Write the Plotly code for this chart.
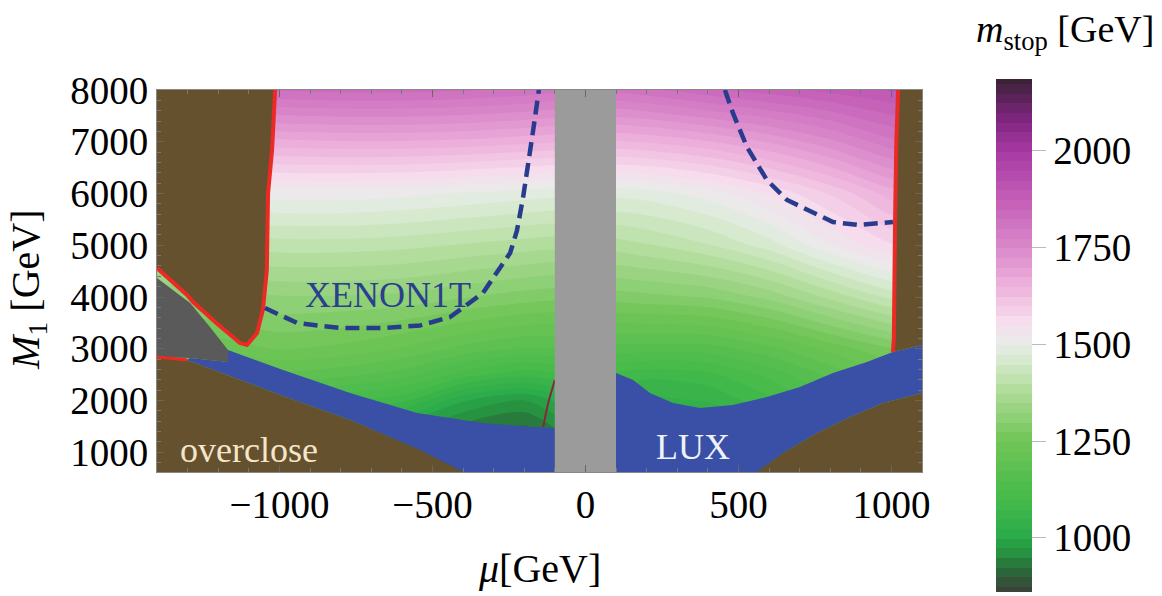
import plotly.graph_objects as go

# ---------------- data ----------------
# parameter grid: higgsino mass mu [GeV] (columns) and bino mass M1 [GeV] (rows)
mu_grid = [-1400, -1200, -1000, -800, -600, -400, -200, -100, 0, 100, 200, 400, 600, 800, 1000, 1100]
m1_grid = [600, 1000, 1500, 2000, 2500, 3000, 4000, 5000, 6000, 7000, 8000]

# stop mass [GeV]; one row per m1_grid entry
m_stop = [
    [910, 930, 940, 920, 890, 870, 870, 890, 920, 930, 920, 930, 950, 1000, 1050, 1060],
    [950, 970, 980, 960, 930, 900, 890, 910, 950, 960, 950, 960, 990, 1040, 1090, 1100],
    [1010, 1030, 1040, 1020, 990, 940, 920, 950, 990, 1010, 1000, 1010, 1040, 1090, 1140, 1150],
    [1090, 1110, 1120, 1100, 1080, 1000, 970, 1000, 1040, 1060, 1040, 1050, 1090, 1140, 1180, 1190],
    [1160, 1180, 1190, 1180, 1160, 1110, 1080, 1090, 1090, 1090, 1080, 1090, 1130, 1180, 1220, 1230],
    [1210, 1230, 1250, 1240, 1220, 1190, 1170, 1170, 1170, 1160, 1160, 1160, 1190, 1230, 1270, 1280],
    [1300, 1310, 1320, 1320, 1315, 1300, 1285, 1280, 1280, 1285, 1290, 1300, 1330, 1380, 1430, 1440],
    [1390, 1400, 1410, 1410, 1405, 1395, 1385, 1380, 1380, 1385, 1395, 1420, 1460, 1520, 1570, 1580],
    [1490, 1500, 1510, 1510, 1505, 1495, 1485, 1480, 1478, 1480, 1485, 1510, 1550, 1600, 1660, 1670],
    [1640, 1655, 1665, 1670, 1670, 1665, 1655, 1650, 1645, 1645, 1650, 1670, 1700, 1740, 1790, 1800],
    [1800, 1815, 1825, 1830, 1830, 1825, 1815, 1805, 1800, 1805, 1815, 1840, 1860, 1880, 1900, 1910],
]

# colour scale (green -> white -> pink -> purple) anchored at stop-mass values
cbar_min, cbar_max = 860, 2185
cbar_vals = [860, 920, 960, 1000, 1100, 1250, 1380, 1450, 1500, 1560, 1650, 1750, 1880, 2000, 2080, 2185]
cbar_cols = ['#3b4239', '#2a6c3b', '#27923f', '#29aa4a', '#45ba4a', '#70c556', '#b0dc9a', '#d2e9c9',
             '#e9ece9', '#f6dcec', '#eeb2dc', '#da88ca', '#c25cb6', '#a63aa2', '#7f2580', '#3b2237']
cbar_ticks = [1000, 1250, 1500, 1750, 2000]

# axis ticks
mu_ticks = [-1000, -500, 0, 500, 1000]
mu_ticktext = ['\u22121000', '\u2212500', '0', '500', '1000']
m1_ticks = [1000, 2000, 3000, 4000, 5000, 6000, 7000, 8000]

# excluded / special regions (mu, M1) in GeV
overclose_top_mu = [-1400, -1014, -1024, -1037, -1041, -1054, -1073, -1106, -1129, -1210, -1282, -1302, -1400]
overclose_top_m1 = [8000, 8000, 6841, 6010, 4522, 3750, 3305, 3073, 3112, 3518, 3904, 4039, 4561]

overclose_bl_mu = [-1400, -1302, -988, -769, -541, -400, -1400]
overclose_bl_m1 = [2842, 2784, 2088, 1624, 1045, 620, 620]

overclose_br_mu = [561, 646, 757, 865, 973, 1100, 1100]
overclose_br_m1 = [620, 987, 1373, 1682, 1953, 2146, 620]

overclose_r_mu = [1022, 1016, 1012, 1010, 1008, 1005, 1100, 1100]
overclose_r_m1 = [8000, 7000, 5500, 4000, 3200, 2938, 3073, 8000]

lux_left_mu = [-1302, -1292, -1168, -1168, -988, -769, -550, -335, -171, -100, -100, -400, -541, -769, -988]
lux_left_m1 = [2784, 2822, 2745, 2977, 2590, 2146, 1760, 1567, 1489, 1470, 620, 620, 1045, 1624, 2088]

lux_right_mu = [100, 156, 211, 286, 375, 482, 593, 701, 809, 920, 1005, 1100, 1100, 973, 865, 757, 646, 561, 100]
lux_right_m1 = [2532, 2397, 2146, 1953, 1856, 1914, 2069, 2262, 2532, 2745, 2938, 3073, 2146, 1953, 1682, 1373, 987, 620, 620]

grey_patch_mu = [-1400, -1292, -1227, -1168, -1168, -1292, -1400]
grey_patch_m1 = [4368, 3885, 3421, 2977, 2745, 2822, 2842]

small_mu_band_mu = [-100, 100, 100, -100]
small_mu_band_m1 = [620, 620, 8000, 8000]

red_top_left_mu = overclose_top_mu[1:]
red_top_left_m1 = overclose_top_m1[1:]
red_low_left_mu = [-1400, -1302]
red_low_left_m1 = [2842, 2784]
red_right_mu = overclose_r_mu[:6]
red_right_m1 = overclose_r_m1[:6]
red_center_mu = [-138, -122, -100]
red_center_m1 = [1489, 1950, 2397]

xenon_left_mu = [-1047, -942, -802, -661, -541, -442, -335, -246, -224, -204, -171, -152]
xenon_left_m1 = [3788, 3498, 3402, 3402, 3450, 3614, 4078, 4851, 5276, 5913, 7208, 8000]
xenon_right_mu = [456, 482, 528, 593, 659, 744, 809, 891, 1005]
xenon_right_m1 = [8000, 7556, 6899, 6261, 5875, 5624, 5450, 5392, 5450]

# ---------------- styles ----------------
SERIF = 'Liberation Serif'
BROWN = '#66512f'
BLUE = '#3a4fa6'
RED = '#ec2a25'
DASH_BLUE = '#283c8e'

colorscale = [[(v - cbar_min) / (cbar_max - cbar_min), c] for v, c in zip(cbar_vals, cbar_cols)]

fig = go.Figure()

fig.add_trace(go.Contour(
    x=mu_grid, y=m1_grid, z=m_stop,
    colorscale=colorscale, zmin=cbar_min, zmax=cbar_max,
    contours=dict(start=872.5, end=2172.5, size=25, coloring='fill', showlines=False),
    line=dict(width=0, smoothing=0.9),
    hoverinfo='skip',
    colorbar=dict(
        x=(996 - 157) / 765, xanchor='left', xpad=0, ypad=0,
        y=(472 - 335.5) / 382, yanchor='middle',
        thickness=36, lenmode='pixels', len=513,
        outlinewidth=0,
        tickvals=cbar_ticks, ticks='outside', ticklen=14, tickcolor='#bbbbbb',
        tickfont=dict(family=SERIF, size=39, color='black'),
    ),
))


def region(xs, ys, color):
    fig.add_trace(go.Scatter(x=xs, y=ys, mode='lines', fill='toself', fillcolor=color,
                             line=dict(width=0, color=color), hoverinfo='skip'))


def curve(xs, ys, color, width, dash='solid'):
    fig.add_trace(go.Scatter(x=xs, y=ys, mode='lines',
                             line=dict(color=color, width=width, dash=dash),
                             hoverinfo='skip'))


region(lux_left_mu, lux_left_m1, BLUE)
region(lux_right_mu, lux_right_m1, BLUE)
region(overclose_top_mu, overclose_top_m1, BROWN)
region(overclose_bl_mu, overclose_bl_m1, BROWN)
region(overclose_br_mu, overclose_br_m1, BROWN)
region(overclose_r_mu, overclose_r_m1, BROWN)
region(grey_patch_mu, grey_patch_m1, '#5a5a5a')

curve(red_top_left_mu, red_top_left_m1, RED, 4)
curve(red_low_left_mu, red_low_left_m1, RED, 3)
curve(red_right_mu, red_right_m1, RED, 4)
curve(red_center_mu, red_center_m1, '#8a2540', 2)

curve(xenon_left_mu, xenon_left_m1, DASH_BLUE, 4.5, dash='14px,7px')
curve(xenon_right_mu, xenon_right_m1, DASH_BLUE, 4.5, dash='14px,7px')

region(small_mu_band_mu, small_mu_band_m1, '#9b9b9b')

annotations = [
    dict(x=-645, y=4039, xref='x', yref='y', text='XENON1T', showarrow=False,
         font=dict(family=SERIF, size=36, color='#2b3f8f')),
    dict(x=-1099, y=1045, xref='x', yref='y', text='overclose', showarrow=False,
         font=dict(family=SERIF, size=36, color='#f4e6c8')),
    dict(x=352, y=1103, xref='x', yref='y', text='LUX', showarrow=False,
         font=dict(family=SERIF, size=36, color='#eef2fb')),
    dict(x=0.5, y=(472 - 568) / 382, xref='paper', yref='paper', text='<i>μ</i>[GeV]',
         xanchor='center', yanchor='middle',
         showarrow=False, font=dict(family=SERIF, size=40, color='black')),
    dict(x=(28 - 157) / 765, y=(472 - 290) / 382, xref='paper', yref='paper',
         text='<i>M</i><sub>1</sub> [GeV]', textangle=-90,
         xanchor='center', yanchor='middle',
         showarrow=False, font=dict(family=SERIF, size=40, color='black')),
    dict(x=(1065 - 157) / 765, y=(472 - 32) / 382, xref='paper', yref='paper',
         text='<i>m</i><sub>stop</sub> [GeV]',
         xanchor='center', yanchor='middle',
         showarrow=False, font=dict(family=SERIF, size=38, color='black')),
]

fig.update_layout(
    width=1162, height=596,
    margin=dict(l=157, r=240, t=90, b=124, autoexpand=False),
    paper_bgcolor='white', plot_bgcolor='white',
    font=dict(family=SERIF, size=38, color='black'),
    showlegend=False,
    annotations=annotations,
    xaxis=dict(range=[-1400, 1100], tickvals=mu_ticks, ticktext=mu_ticktext,
               ticks='inside', ticklen=7, tickcolor='#666', showline=True, mirror='ticks',
               linecolor='#888', linewidth=1, showgrid=False, zeroline=False,
               minor=dict(ticks='inside', ticklen=4, dtick=100, tickcolor='#777'),
               ticklabelstandoff=-2,
               tickfont=dict(family=SERIF, size=39, color='black')),
    yaxis=dict(range=[620, 8000], tickvals=m1_ticks,
               ticks='inside', ticklen=7, tickcolor='#666', showline=True, mirror='ticks',
               linecolor='#888', linewidth=1, showgrid=False, zeroline=False,
               minor=dict(ticks='inside', ticklen=4, dtick=200, tickcolor='#777'),
               tickfont=dict(family=SERIF, size=39, color='black')),
)

fig.write_html('out.html')
